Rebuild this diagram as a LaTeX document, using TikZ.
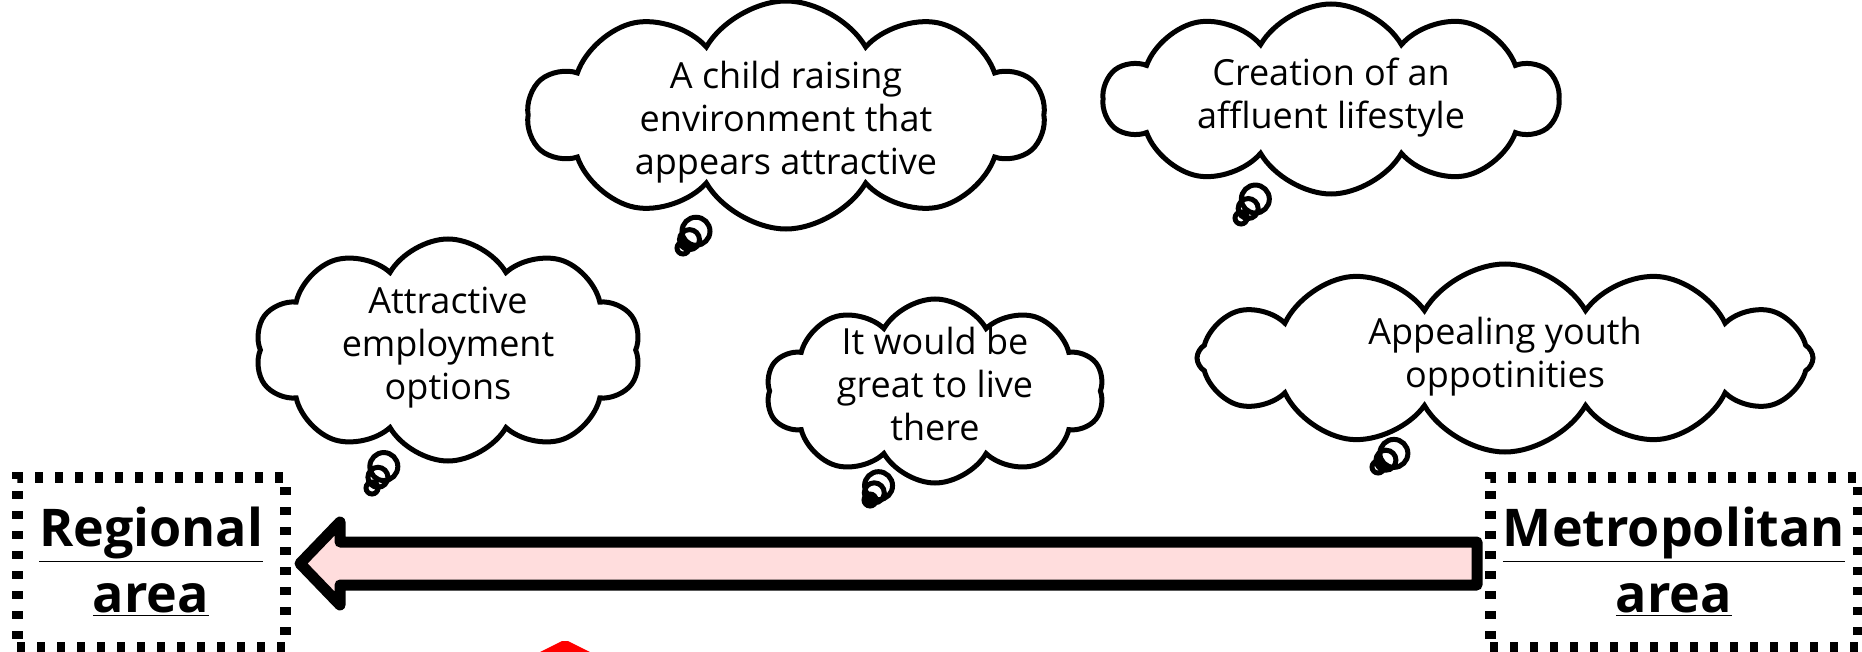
\documentclass[tikz,border=0pt]{standalone}
\usepackage{fontspec}
\setmainfont{Open Sans}
\usetikzlibrary{shapes.symbols,shapes.callouts}
\definecolor{arrowpink}{RGB}{255,221,221}
\newcommand{\cloudtext}[2][0pt]{\raisebox{\dimexpr-6.7pt-#1\relax}{\smash{\makebox[0pt]{\begin{tabular}{@{}c@{}}#2\end{tabular}}}}}
\begin{document}
\begin{tikzpicture}[x=0.5pt,y=-0.5pt,
    thought/.style={cloud callout,draw=black,line width=2.5pt,fill=white,cloud puffs=10,cloud puff arc=120,
      cloud ignores aspect,inner sep=0pt,font=\fontsize{18}{21.5}\selectfont,
      callout pointer segments=3,callout pointer start size=19pt and 18pt,callout pointer end size=6pt and 6pt},
    area/.style={draw=black,line width=5.5pt,dash pattern=on 4pt off 6pt,align=center,
      font=\bfseries\fontsize{26}{33}\selectfont,inner sep=0pt}]
  \useasboundingbox (0,0) rectangle (1862,652);

  %areas
  \node [area,minimum width=134pt,minimum height=85pt] (regional) at (151,562) {\underline{Regional}\\\underline{area}};
  \node [area,minimum width=184pt,minimum height=85pt] (metro) at (1674,562) {\underline{Metropolitan}\\\underline{area}};

  %move arrow
  \draw[line width=5.5pt,fill=arrowpink,line join=round] (1477,542) -- (340,542) -- (340,522) -- (300,563.5)
    -- (340,605) -- (340,585) -- (1477,585) -- cycle;

  %thoughts
  \node [thought,minimum width=258pt,minimum height=114pt,callout absolute pointer={(683,248)}] (child) at (786,115)
    {\cloudtext[9.7pt]{A child raising\\environment that\\appears attractive}};
  \node [thought,minimum width=227pt,minimum height=95pt,callout absolute pointer={(1241,218)}] (lifestyle) at (1331,99)
    {\cloudtext[1pt]{Creation of an\\affluent lifestyle}};
  \node [thought,minimum width=193pt,minimum height=111pt,callout absolute pointer={(372,488)}] (jobs) at (448,350)
    {\cloudtext{Attractive\\employment\\options}};
  \node [thought,minimum width=169pt,minimum height=92pt,callout absolute pointer={(870,500)}] (live) at (935,391)
    {\cloudtext{It would be\\great to live\\there}};
  \node [thought,cloud puffs=12,minimum width=308pt,minimum height=94pt,callout absolute pointer={(1378,467)}] (youth) at (1505,358)
    {\cloudtext[1pt]{Appealing youth\\oppotinities}};

  %red mark
  \fill[red] (540,652) -- (562,641) -- (568,641) -- (590,652) -- cycle;
\end{tikzpicture}
\end{document}
